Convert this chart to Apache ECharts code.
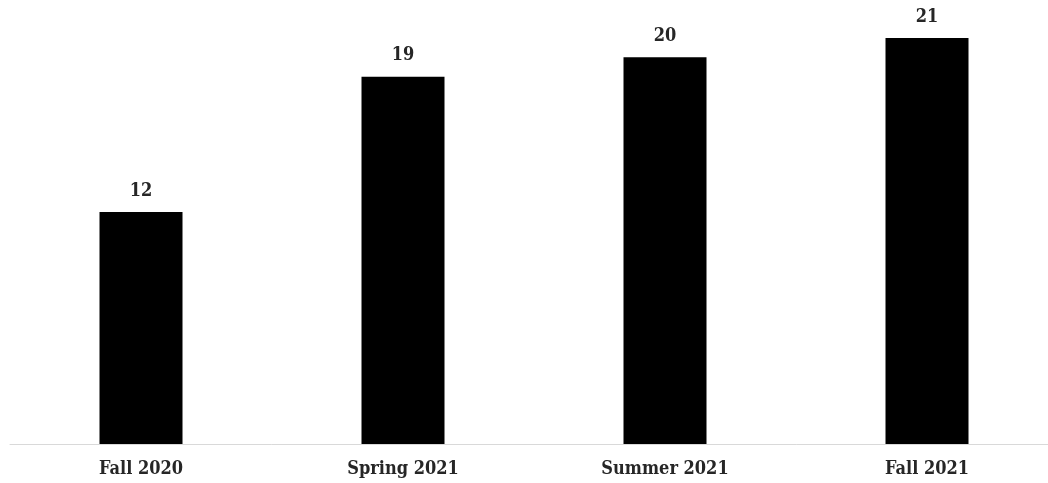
<!DOCTYPE html>
<html>
<head>
<meta charset="utf-8">
<style>html,body{margin:0;padding:0;background:#fff;overflow:hidden}#w{width:1048px;height:483px;overflow:hidden}#c{width:1058px;height:483px}</style>
<script src="https://cdn.jsdelivr.net/npm/echarts@6/dist/echarts.min.js"></script>
</head>
<body>
<div id="w"><div id="c"></div></div>
<script>
const categories = ['Fall 2020', 'Spring 2021', 'Summer 2021', 'Fall 2021'];
const values = [12, 19, 20, 21];
const FONT = '"DejaVu Serif Condensed", "DejaVu Serif", serif';
const chart = echarts.init(document.getElementById('c'));
chart.setOption({
  animation: false,
  grid: { left: 10, top: 38, bottom: 39, right: 0 },
  xAxis: {
    type: 'category', data: categories,
    axisLine: { lineStyle: { color: '#d9d9d9', width: 1 } },
    axisTick: { show: false },
    axisLabel: { color: '#262626', fontFamily: FONT, fontWeight: 'bold', fontSize: 18, margin: 16 }
  },
  yAxis: { type: 'value', min: 0, max: 21, show: false, splitLine: { show: false } },
  series: [{
    type: 'bar', data: values, barWidth: 83,
    itemStyle: { color: '#000000' },
    label: { show: true, position: 'top', distance: 12, color: '#262626', fontFamily: FONT, fontWeight: 'bold', fontSize: 18 }
  }]
});
</script>
</body>
</html>
